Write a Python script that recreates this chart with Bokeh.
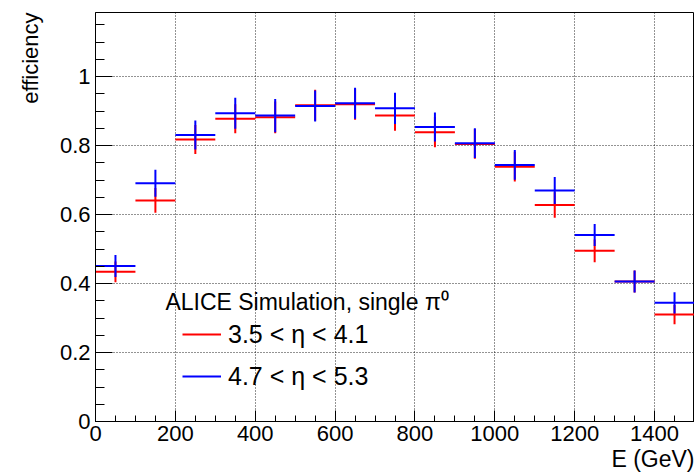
import numpy as np
from bokeh.plotting import figure
from bokeh.models import (ColumnDataSource, Range1d, FixedTicker, Legend, LegendItem, Label, Title)
from bokeh.embed import file_html
from bokeh.resources import INLINE

# ---- data ----
bin_edges = [0, 100, 200, 300, 400, 500, 600, 700, 800, 900, 1000, 1100, 1200, 1300, 1400, 1500]
red_eff = [0.434, 0.641, 0.818, 0.878, 0.882, 0.917, 0.920, 0.887, 0.839, 0.805, 0.739, 0.628, 0.495, 0.406, 0.310]
red_err = [0.030, 0.036, 0.042, 0.042, 0.046, 0.045, 0.045, 0.044, 0.044, 0.043, 0.043, 0.037, 0.033, 0.032, 0.028]
blue_eff = [0.451, 0.691, 0.831, 0.894, 0.887, 0.915, 0.923, 0.908, 0.854, 0.807, 0.744, 0.670, 0.541, 0.406, 0.344]
blue_err = [0.032, 0.039, 0.042, 0.045, 0.048, 0.045, 0.045, 0.045, 0.042, 0.043, 0.043, 0.039, 0.032, 0.032, 0.031]
red_label = "3.5 < η < 4.1"
blue_label = "4.7 < η < 5.3"
legend_title = "ALICE Simulation, single π⁰"
x_title = "E (GeV)"
y_title = "efficiency"
x_ticks = [0, 200, 400, 600, 800, 1000, 1200, 1400]
y_ticks = [0, 0.2, 0.4, 0.6, 0.8, 1.0]
y_tick_labels = ["0", "0.2", "0.4", "0.6", "0.8", "1"]

FONT = "Liberation Sans"
X_MAX = 1500
Y_MAX = 1.186

edges = np.array(bin_edges, dtype=float)
lo = edges[:-1]
hi = edges[1:]
xc = 0.5 * (lo + hi)


def make_src(eff, err):
    eff = np.array(eff)
    err = np.array(err)
    return ColumnDataSource(dict(lo=lo, hi=hi, x=xc, y=eff, ylo=eff - err, yhi=eff + err))


p = figure(width=694, height=474, output_backend="svg", toolbar_location=None,
           x_range=Range1d(0, X_MAX), y_range=Range1d(0, Y_MAX),
           min_border_left=95, min_border_right=0, min_border_top=12, min_border_bottom=53)
p.background_fill_color = "white"
p.border_fill_color = "white"
p.outline_line_color = "black"
p.outline_line_width = 1

src_r = make_src(red_eff, red_err)
src_b = make_src(blue_eff, blue_err)

rr_h = p.segment(x0="lo", y0="y", x1="hi", y1="y", source=src_r, line_color="#ff0000", line_width=2)
rr_v = p.segment(x0="x", y0="ylo", x1="x", y1="yhi", source=src_r, line_color="#ff0000", line_width=2)
rb_h = p.segment(x0="lo", y0="y", x1="hi", y1="y", source=src_b, line_color="#0000ff", line_width=2)
rb_v = p.segment(x0="x", y0="ylo", x1="x", y1="yhi", source=src_b, line_color="#0000ff", line_width=2)

# axes
p.xaxis.ticker = FixedTicker(ticks=x_ticks, minor_ticks=list(range(0, 1501, 50)))
p.yaxis.ticker = FixedTicker(ticks=y_ticks, minor_ticks=[round(0.05 * i, 2) for i in range(0, 24)])
p.yaxis.major_label_overrides = {t: s for t, s in zip(y_ticks, y_tick_labels)}

for ax in (p.xaxis, p.yaxis):
    ax.axis_line_color = "black"
    ax.major_tick_line_color = "black"
    ax.minor_tick_line_color = "black"
    ax.major_tick_out = 0
    ax.minor_tick_out = 0
    ax.major_label_text_font = FONT
    ax.major_label_text_font_size = "22px"
    ax.major_label_text_color = "black"

p.yaxis.major_tick_in = 17
p.yaxis.minor_tick_in = 9
p.xaxis.major_tick_in = 11
p.xaxis.minor_tick_in = 6
p.yaxis.major_label_standoff = 5
p.xaxis.major_label_standoff = 4

for g in (p.xgrid, p.ygrid):
    g.grid_line_color = "black"
    g.grid_line_dash = "1 2"
    g.grid_line_width = 1
    g.grid_line_alpha = 0.85

# axis titles (ROOT style: aligned to the axis ends)
p.add_layout(Title(text=x_title, align="right", text_font=FONT, text_font_size="23px",
                   text_font_style="normal", text_color="black", standoff=0, offset=0), "below")
p.add_layout(Title(text=y_title, align="right", text_font=FONT, text_font_size="22px",
                   text_font_style="normal", text_color="black", standoff=28, offset=0), "left")

legend = Legend(items=[LegendItem(label=red_label, renderers=[rr_h]),
                       LegendItem(label=blue_label, renderers=[rb_h])],
                location=(87, 24), orientation="vertical",
                label_text_font=FONT, label_text_font_size="25px", label_text_color="black",
                label_standoff=7, glyph_width=39, glyph_height=42, label_height=42,
                spacing=0, padding=0, margin=0,
                border_line_color=None, background_fill_alpha=0)
p.add_layout(legend)

p.add_layout(Label(x=175, y=0.346, text=legend_title, text_font=FONT, text_font_size="23px",
                   text_baseline="alphabetic", text_color="black"))

open("out.html", "w").write(file_html(p, INLINE))
